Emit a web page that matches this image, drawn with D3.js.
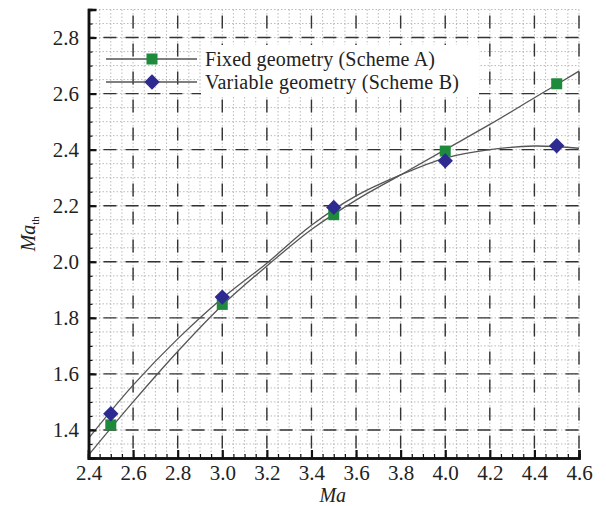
<!DOCTYPE html>
<html>
<head>
<meta charset="utf-8">
<script src="https://cdn.jsdelivr.net/npm/d3@7"></script>
<style>
  body { margin: 0; background: #fff; }
  svg { display: block; font-family: "Liberation Serif", "DejaVu Serif", serif; }
  svg text { font-family: "Liberation Serif", "DejaVu Serif", serif !important; }
</style>
</head>
<body>
<svg width="606" height="506"></svg>
<script>
// measured points
var machA = [2.5, 3.0, 3.5, 4.0, 4.5]
var fixedA = [1.418, 1.848, 2.168, 2.395, 2.635]
var variableB = [1.458, 1.874, 2.194, 2.36, 2.414]

// fitted curves
var curveX = [2.4, 2.6, 2.8, 3.0, 3.2, 3.4, 3.6, 3.8, 4.0, 4.2, 4.4, 4.6]
var curveA = [1.31, 1.50, 1.68, 1.845, 1.985, 2.115, 2.22, 2.31, 2.40, 2.49, 2.585, 2.68]
var curveB = [1.37, 1.56, 1.725, 1.87, 1.995, 2.13, 2.235, 2.31, 2.37, 2.40, 2.413, 2.405]

var xTicks = [2.4, 2.6, 2.8, 3.0, 3.2, 3.4, 3.6, 3.8, 4.0, 4.2, 4.4, 4.6]
var yTicks = [1.4, 1.6, 1.8, 2.0, 2.2, 2.4, 2.6, 2.8]

var legendNames = ["Fixed geometry (Scheme A)", "Variable geometry (Scheme B)"]

var pLeft = 88.5, pRight = 579, pTop = 9.5, pBottom = 458

var svg = d3.select("svg")

var x = d3.scaleLinear().domain([2.4, 4.6]).range([pLeft, pRight])
var y = d3.scaleLinear().domain([1.3, 2.9]).range([pBottom, pTop])

var minorX = d3.range(0, 45).map((i) => +(2.4 + i * 0.05).toFixed(2))
var minorY = d3.range(0, 33).map((i) => +(1.3 + i * 0.05).toFixed(2))

var grid = svg.append("g")

// dotted minor grid
grid.selectAll(".mx").data(minorX).enter().append("line")
    .attr("x1", (d) => x(d)).attr("x2", (d) => x(d))
    .attr("y1", pTop).attr("y2", pBottom)
    .attr("stroke", "#aaa").attr("stroke-width", 0.8)
    .attr("stroke-dasharray", "1.5,2")
grid.selectAll(".my").data(minorY).enter().append("line")
    .attr("x1", pLeft).attr("x2", pRight)
    .attr("y1", (d) => y(d)).attr("y2", (d) => y(d))
    .attr("stroke", "#aaa").attr("stroke-width", 0.8)
    .attr("stroke-dasharray", "1.5,2")

// dashed major grid
grid.selectAll(".Mx").data(xTicks.slice(1)).enter().append("line")
    .attr("x1", (d) => x(d)).attr("x2", (d) => x(d))
    .attr("y1", pTop).attr("y2", pBottom)
    .attr("stroke", "#333").attr("stroke-width", 1.4)
    .attr("stroke-dasharray", "13,15")
    .attr("stroke-dashoffset", -6)
grid.selectAll(".My").data(yTicks).enter().append("line")
    .attr("x1", pLeft).attr("x2", pRight)
    .attr("y1", (d) => y(d)).attr("y2", (d) => y(d))
    .attr("stroke", "#333").attr("stroke-width", 1.4)
    .attr("stroke-dasharray", "13,9")
    .attr("stroke-dashoffset", -15)

// legend text background
svg.append("rect")
    .attr("x", 201).attr("y", 45).attr("width", 278).attr("height", 52)
    .attr("fill", "#fff")

// curves
var line = d3.line().curve(d3.curveCatmullRom)
svg.append("g").selectAll("path").data([curveA, curveB]).enter().append("path")
    .attr("d", (vals) => line(curveX.map((cx, i) => [x(cx), y(vals[i])])))
    .attr("fill", "none")
    .attr("stroke", "#555")
    .attr("stroke-width", 1.3)

// markers
svg.append("g").selectAll("rect").data(machA).enter().append("rect")
    .attr("x", (d) => x(d) - 5.5)
    .attr("y", (d, i) => y(fixedA[i]) - 5.5)
    .attr("width", 11).attr("height", 11)
    .attr("fill", "#1e8a3c")

var diamond = d3.symbol().type(d3.symbolDiamond2).size(150)
svg.append("g").selectAll("path").data(machA).enter().append("path")
    .attr("transform", (d, i) => "translate(" + x(d) + "," + y(variableB[i]) + ")")
    .attr("d", diamond)
    .attr("fill", "#2d2a90")

// axes (ticks pointing inward)
var xAxis = d3.axisBottom(x).tickValues(xTicks).tickFormat(d3.format(".1f")).tickSize(-8).tickPadding(7)
var xMinor = d3.axisBottom(x).tickValues(minorX).tickFormat("").tickSize(-4)
var yAxis = d3.axisLeft(y).tickValues(yTicks).tickFormat(d3.format(".1f")).tickSize(-8).tickPadding(9.5)
var yMinor = d3.axisLeft(y).tickValues(minorY).tickFormat("").tickSize(-4)

function style(g, w) {
    g.attr("font-family", null).attr("font-size", 21)
    g.select(".domain").attr("stroke", "#111").attr("stroke-width", 2.5)
    g.selectAll(".tick line").attr("stroke", "#111").attr("stroke-width", w)
    g.selectAll(".tick text").attr("fill", "#222")
}

svg.append("g").attr("transform", "translate(0," + pBottom + ")").call(xMinor).call(style, 1.2)
svg.append("g").attr("transform", "translate(0," + pBottom + ")").call(xAxis).call(style, 2.2)
svg.append("g").attr("transform", "translate(" + pLeft + ",0)").call(yMinor).call(style, 1.2)
svg.append("g").attr("transform", "translate(" + pLeft + ",0)").call(yAxis).call(style, 2.2)

// axis titles
svg.append("text")
    .attr("x", (pLeft + pRight) / 2 - 1).attr("y", 502)
    .attr("text-anchor", "middle")
    .attr("font-size", 20).attr("font-style", "italic")
    .attr("fill", "#222")
    .text("Ma")

var yt = svg.append("text")
    .attr("transform", "translate(35," + ((pTop + pBottom) / 2) + ") rotate(-90)")
    .attr("text-anchor", "middle")
    .attr("font-size", 20).attr("fill", "#222")
yt.append("tspan").attr("font-style", "italic").text("Ma")
yt.append("tspan").attr("font-size", 11).attr("dy", 4).text("th")

// legend
var lg = svg.append("g")
lg.selectAll("line").data(legendNames).enter().append("line")
    .attr("x1", 106).attr("x2", 197)
    .attr("y1", (d, i) => 59 + i * 23).attr("y2", (d, i) => 59 + i * 23)
    .attr("stroke", "#555").attr("stroke-width", 1.3)
lg.append("rect").attr("x", 146.5).attr("y", 53.5).attr("width", 11).attr("height", 11).attr("fill", "#1e8a3c")
lg.append("path").attr("transform", "translate(152,82)").attr("d", diamond).attr("fill", "#2d2a90")
lg.selectAll("text").data(legendNames).enter().append("text")
    .attr("x", 205).attr("y", (d, i) => 66 + i * 23)
    .attr("font-size", 20).attr("fill", "#222")
    .attr("textLength", (d, i) => i ? 254 : 230)
    .text((d) => d)
</script>
</body>
</html>
